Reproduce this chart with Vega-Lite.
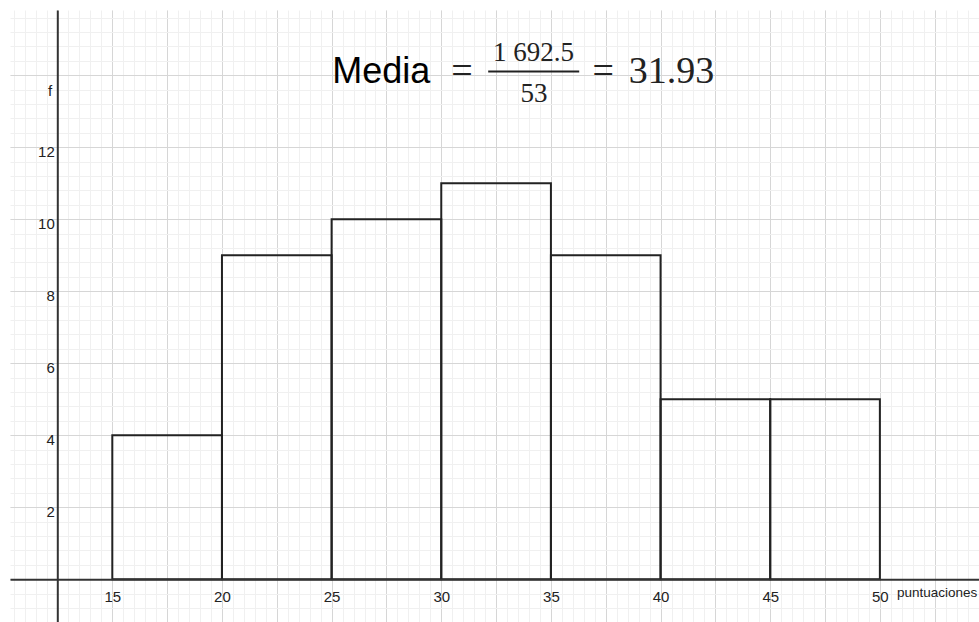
{
  "$schema": "https://vega.github.io/schema/vega-lite/v6.json",
  "width": 979,
  "height": 622,
  "autosize": {"type": "fit", "contains": "padding"},
  "padding": {"left": 10, "top": 10, "right": 0, "bottom": 0},
  "background": "white",
  "config": {"view": {"stroke": null}},
  "resolve": {"axis": {"x": "independent", "y": "independent"}},
  "layer": [
    {
      "data": {"values": [
        {"lo": 15, "hi": 20, "f": 4},
        {"lo": 20, "hi": 25, "f": 9},
        {"lo": 25, "hi": 30, "f": 10},
        {"lo": 30, "hi": 35, "f": 11},
        {"lo": 35, "hi": 40, "f": 9},
        {"lo": 40, "hi": 45, "f": 5},
        {"lo": 45, "hi": 50, "f": 5}
      ]},
      "mark": {"type": "rect", "fill": "transparent", "stroke": "#222222", "strokeWidth": 2},
      "encoding": {
        "x": {"field": "lo", "type": "quantitative",
          "scale": {"domain": [10.335, 54.52], "nice": false, "zero": false},
          "axis": {"orient": "top", "title": null, "labels": false, "ticks": false, "domain": false, "grid": true, "gridColor": "#f0f0f0", "gridWidth": 1,
            "values": [10.5,11,11.5,12,12.5,13,13.5,14,14.5,15,15.5,16,16.5,17,17.5,18,18.5,19,19.5,20,20.5,21,21.5,22,22.5,23,23.5,24,24.5,25,25.5,26,26.5,27,27.5,28,28.5,29,29.5,30,30.5,31,31.5,32,32.5,33,33.5,34,34.5,35,35.5,36,36.5,37,37.5,38,38.5,39,39.5,40,40.5,41,41.5,42,42.5,43,43.5,44,44.5,45,45.5,46,46.5,47,47.5,48,48.5,49,49.5,50,50.5,51,51.5,52,52.5,53,53.5,54,54.5]}},
        "x2": {"field": "hi"},
        "y": {"field": "f", "type": "quantitative",
          "scale": {"domain": [-1.186, 15.81], "nice": false, "zero": false},
          "axis": {"orient": "right", "title": null, "labels": false, "ticks": false, "domain": false, "grid": true, "gridColor": "#f0f0f0", "gridWidth": 1,
            "values": [-1.2,-0.8,-0.4,0,0.4,0.8,1.2,1.6,2,2.4,2.8,3.2,3.6,4,4.4,4.8,5.2,5.6,6,6.4,6.8,7.2,7.6,8,8.4,8.8,9.2,9.6,10,10.4,10.8,11.2,11.6,12,12.4,12.8,13.2,13.6,14,14.4,14.8,15.2,15.6]}},
        "y2": {"datum": 0}
      }
    },
    {
      "data": {"values": [{"label": "f"}]},
      "mark": {"type": "text", "align": "right", "baseline": "middle", "font": "Liberation Sans", "fontSize": 15, "color": "#222222"},
      "encoding": {
        "text": {"field": "label"},
        "x": {"datum": 12.26, "type": "quantitative",
          "scale": {"domain": [10.335, 54.52], "nice": false, "zero": false},
          "axis": {"orient": "top", "title": null, "labels": false, "ticks": false, "domain": false, "grid": true, "gridColor": "#d6d6d6", "gridWidth": 1,
            "values": [12.5,15,17.5,20,22.5,25,27.5,30,32.5,35,37.5,40,42.5,45,47.5,50,52.5]}},
        "y": {"datum": 13.56, "type": "quantitative",
          "scale": {"domain": [-1.186, 15.81], "nice": false, "zero": false},
          "axis": {"orient": "right", "title": null, "labels": false, "ticks": false, "domain": false, "grid": true, "gridColor": "#d6d6d6", "gridWidth": 1,
            "values": [0,2,4,6,8,10,12,14]}}
      }
    },
    {
      "data": {"values": [{"label": "puntuaciones"}]},
      "mark": {"type": "text", "align": "left", "baseline": "middle", "font": "Liberation Sans", "fontSize": 13.5, "color": "#222222"},
      "encoding": {
        "text": {"field": "label"},
        "x": {"datum": 50.78, "type": "quantitative",
          "scale": {"domain": [10.335, 54.52], "nice": false, "zero": false},
          "axis": {"orient": "bottom", "offset": -42.7, "title": null, "ticks": false, "grid": false, "domain": true, "domainColor": "#333333", "domainWidth": 2,
            "labelFont": "Liberation Sans", "labelFontSize": 15, "labelColor": "#222222", "labelPadding": 10, "labelOverlap": false, "labelFlush": false, "zindex": 1,
            "values": [15,20,25,30,35,40,45,50]}},
        "y": {"datum": -0.38, "type": "quantitative",
          "scale": {"domain": [-1.186, 15.81], "nice": false, "zero": false},
          "axis": {"orient": "left", "offset": -47.3, "title": null, "ticks": false, "grid": false, "domain": true, "domainColor": "#333333", "domainWidth": 2,
            "labelFont": "Liberation Sans", "labelFontSize": 15, "labelColor": "#222222", "labelPadding": 3, "labelOffset": 4, "labelOverlap": false, "labelFlush": false, "zindex": 1,
            "values": [2,4,6,8,10,12]}}
      }
    },
    {
      "data": {"values": [{"label": "Media"}]},
      "mark": {"type": "text", "align": "left", "baseline": "alphabetic", "font": "Liberation Sans", "fontSize": 36, "color": "#000000"},
      "encoding": {
        "text": {"field": "label"},
        "x": {"datum": 25.03, "type": "quantitative", "scale": {"domain": [10.335, 54.52], "nice": false, "zero": false}, "axis": null},
        "y": {"datum": 13.786, "type": "quantitative", "scale": {"domain": [-1.186, 15.81], "nice": false, "zero": false}, "axis": null}
      }
    },
    {
      "data": {"values": [{"label": "="}]},
      "mark": {"type": "text", "align": "left", "baseline": "alphabetic", "font": "Liberation Serif", "fontSize": 38, "color": "#222222"},
      "encoding": {
        "text": {"field": "label"},
        "x": {"datum": 30.45, "type": "quantitative", "scale": {"domain": [10.335, 54.52], "nice": false, "zero": false}, "axis": null},
        "y": {"datum": 13.786, "type": "quantitative", "scale": {"domain": [-1.186, 15.81], "nice": false, "zero": false}, "axis": null}
      }
    },
    {
      "data": {"values": [{"label": "1 692.5"}]},
      "mark": {"type": "text", "align": "center", "baseline": "alphabetic", "font": "Liberation Serif", "fontSize": 27, "color": "#222222"},
      "encoding": {
        "text": {"field": "label"},
        "x": {"datum": 34.21, "type": "quantitative", "scale": {"domain": [10.335, 54.52], "nice": false, "zero": false}, "axis": null},
        "y": {"datum": 14.4, "type": "quantitative", "scale": {"domain": [-1.186, 15.81], "nice": false, "zero": false}, "axis": null}
      }
    },
    {
      "data": {"values": [{"label": "fraction"}]},
      "mark": {"type": "rule", "color": "#222222", "strokeWidth": 2},
      "encoding": {
        "x": {"datum": 32.14, "type": "quantitative", "scale": {"domain": [10.335, 54.52], "nice": false, "zero": false}, "axis": null},
        "x2": {"datum": 36.29},
        "y": {"datum": 14.1, "type": "quantitative", "scale": {"domain": [-1.186, 15.81], "nice": false, "zero": false}, "axis": null}
      }
    },
    {
      "data": {"values": [{"label": "53"}]},
      "mark": {"type": "text", "align": "center", "baseline": "alphabetic", "font": "Liberation Serif", "fontSize": 27, "color": "#222222"},
      "encoding": {
        "text": {"field": "label"},
        "x": {"datum": 34.23, "type": "quantitative", "scale": {"domain": [10.335, 54.52], "nice": false, "zero": false}, "axis": null},
        "y": {"datum": 13.26, "type": "quantitative", "scale": {"domain": [-1.186, 15.81], "nice": false, "zero": false}, "axis": null}
      }
    },
    {
      "data": {"values": [{"label": "="}]},
      "mark": {"type": "text", "align": "left", "baseline": "alphabetic", "font": "Liberation Serif", "fontSize": 38, "color": "#222222"},
      "encoding": {
        "text": {"field": "label"},
        "x": {"datum": 36.9, "type": "quantitative", "scale": {"domain": [10.335, 54.52], "nice": false, "zero": false}, "axis": null},
        "y": {"datum": 13.786, "type": "quantitative", "scale": {"domain": [-1.186, 15.81], "nice": false, "zero": false}, "axis": null}
      }
    },
    {
      "data": {"values": [{"label": "31.93"}]},
      "mark": {"type": "text", "align": "left", "baseline": "alphabetic", "font": "Liberation Serif", "fontSize": 38, "color": "#222222"},
      "encoding": {
        "text": {"field": "label"},
        "x": {"datum": 38.55, "type": "quantitative", "scale": {"domain": [10.335, 54.52], "nice": false, "zero": false}, "axis": null},
        "y": {"datum": 13.786, "type": "quantitative", "scale": {"domain": [-1.186, 15.81], "nice": false, "zero": false}, "axis": null}
      }
    }
  ]
}
